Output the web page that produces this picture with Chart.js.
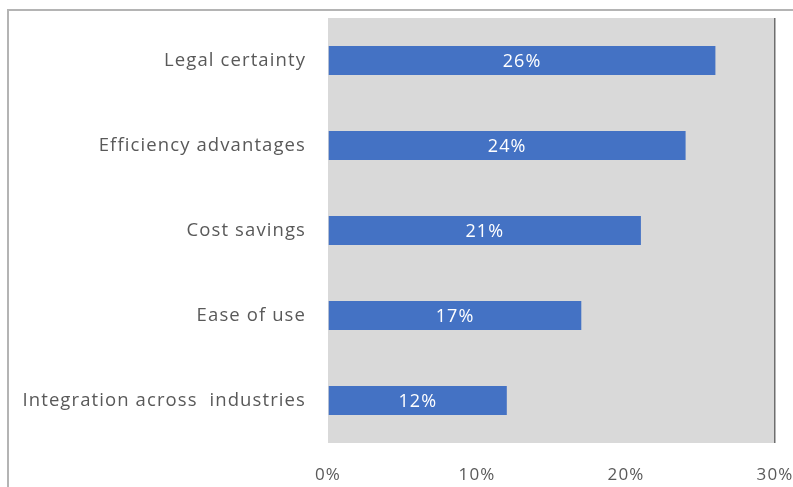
<!DOCTYPE html>
<html>
<head>
<meta charset="utf-8">
<script src="https://cdn.jsdelivr.net/npm/chart.js@4.4.1/dist/chart.umd.min.js"></script>
<style>
  html, body { margin: 0; padding: 0; background: #fff; }
  #frame {
    position: absolute; left: 7px; top: 9px; width: 790px; height: 480px;
    border-top: 2px solid #b4b4b4; border-left: 2px solid #b4b4b4;
  }
  #chart { position: absolute; left: 0; top: 0; }
</style>
</head>
<body>
<div id="frame"></div>
<canvas id="chart" width="793" height="487"></canvas>
<script>
// reasons, top to bottom
var categories = ['Legal certainty', 'Efficiency advantages', 'Cost savings', 'Ease of use', 'Integration across  industries'];
var shares = [26, 24, 21, 17, 12];
var tickValues = [0, 10, 20, 30];

var FONT = '"Open Sans", Lato, sans-serif';
var SPACING = '1.1px';

// wide lettering for all text
var spacing = {
    id: 'spacing',
    beforeLayout: function(chart){ chart.ctx.letterSpacing = SPACING; },
    beforeDraw: function(chart){ chart.ctx.letterSpacing = SPACING; }
};

// grey plot background
var plotBg = {
    id: 'plotBg',
    beforeDraw: function(chart){
        var a = chart.chartArea, ctx = chart.ctx;
        ctx.save();
        ctx.fillStyle = '#d9d9d9';
        ctx.fillRect(a.left, a.top, a.right - a.left, a.bottom - a.top);
        ctx.restore();
    }
};

// value in the middle of each bar
var barLabels = {
    id: 'barLabels',
    afterDatasetsDraw: function(chart){
        var ctx = chart.ctx;
        var meta = chart.getDatasetMeta(0);
        ctx.save();
        ctx.fillStyle = '#ffffff';
        ctx.font = '18px ' + FONT;
        ctx.letterSpacing = SPACING;
        ctx.textAlign = 'center';
        ctx.textBaseline = 'middle';
        meta.data.forEach(function(bar, i){
            var v = chart.data.datasets[0].data[i];
            ctx.fillText(v + '%', (bar.base + bar.x) / 2, bar.y + 1);
        });
        ctx.restore();
    }
};

new Chart(document.getElementById('chart'), {
    type: 'bar',
    data: {
        labels: categories,
        datasets: [{
            data: shares,
            backgroundColor: '#4472c4',
            borderWidth: 0,
            categoryPercentage: 0.34,
            barPercentage: 1
        }]
    },
    options: {
        indexAxis: 'y',
        responsive: false,
        animation: false,
        layout: { padding: { top: 18, right: 18, left: 0, bottom: 0 } },
        plugins: { legend: { display: false }, tooltip: { enabled: false } },
        scales: {
            x: {
                min: 0,
                max: 30,
                afterBuildTicks: function(scale){
                    scale.ticks = tickValues.map(function(v){ return { value: v }; });
                },
                afterFit: function(scale){
                    scale.height = 44;
                    scale.paddingLeft = 0;
                    scale.paddingRight = 0;
                },
                grid: {
                    drawTicks: false,
                    lineWidth: 1.5,
                    color: function(c){ return c.tick && c.tick.value === 30 ? '#6e6e6e' : 'rgba(0,0,0,0)'; }
                },
                border: { display: false },
                ticks: {
                    padding: 22,
                    color: '#595959',
                    font: { family: FONT, size: 17 },
                    callback: function(v){ return v + '%'; }
                }
            },
            y: {
                afterFit: function(scale){
                    scale.width = 328;
                    scale.paddingTop = 0;
                    scale.paddingBottom = 0;
                },
                grid: { display: false },
                border: { display: false },
                ticks: {
                    padding: 14,
                    color: '#595959',
                    font: { family: FONT, size: 18.5 }
                }
            }
        }
    },
    plugins: [spacing, plotBg, barLabels]
});
</script>
</body>
</html>
